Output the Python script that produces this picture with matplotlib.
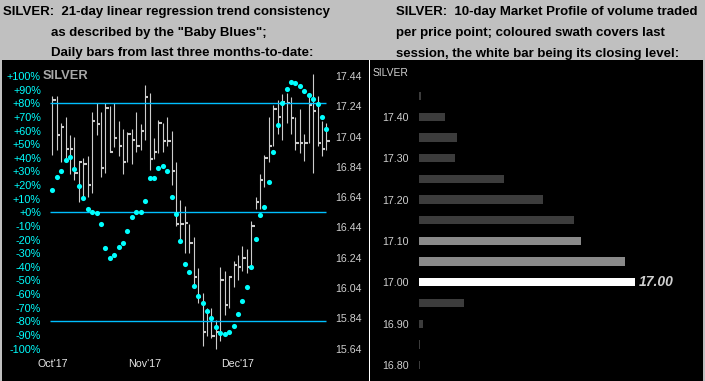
import matplotlib
matplotlib.use('Agg')
import matplotlib.pyplot as plt
from matplotlib.patches import Rectangle
import numpy as np

plt.rcParams['font.family'] = ['Liberation Sans', 'DejaVu Sans']

# ---------------- left chart data ----------------
highs = [17.31, 17.31, 17.13, 17.17, 17.05, 17.04, 16.87, 16.90, 16.91, 17.20,
         17.26, 17.20, 17.26, 17.24, 17.26, 17.14, 17.09, 17.07, 17.09, 17.20,
         17.12, 17.38, 17.33, 17.03, 17.15, 17.13, 17.17, 17.08, 16.87, 16.62,
         16.58, 16.46, 16.38, 16.17, 16.01, 15.91, 15.91, 15.83, 16.18, 16.15,
         16.12, 16.22, 16.26, 16.32, 16.30, 16.48, 16.64, 16.79, 16.92, 17.17,
         17.25, 17.28, 17.32, 17.33, 17.30, 17.17, 17.22, 17.06, 17.30, 17.45,
         17.31, 17.14, 17.13]
lows = [16.92, 16.95, 16.87, 16.89, 16.79, 16.75, 16.61, 16.64, 16.64, 16.67,
        17.05, 16.77, 16.80, 16.94, 16.97, 16.91, 16.79, 16.87, 16.86, 16.94,
        16.95, 17.02, 16.82, 16.89, 16.93, 16.94, 16.98, 16.72, 16.45, 16.36,
        16.27, 16.27, 16.05, 15.94, 15.66, 15.72, 15.71, 15.64, 15.69, 15.86,
        15.91, 16.05, 16.09, 16.15, 16.14, 16.18, 16.56, 16.56, 16.71, 16.87,
        16.98, 17.06, 17.02, 17.13, 17.06, 16.95, 16.93, 16.88, 17.00, 16.80,
        16.98, 16.91, 16.95]
closes = [17.28, 17.05, 17.10, 16.96, 16.96, 16.80, 16.87, 16.86, 16.72, 17.14,
          17.12, 16.83, 17.23, 16.94, 17.03, 16.98, 16.87, 17.06, 17.02, 16.98,
          17.08, 17.30, 16.89, 16.94, 17.13, 17.01, 17.01, 16.81, 16.46, 16.46,
          16.47, 16.34, 16.11, 15.98, 15.75, 15.88, 15.72, 15.75, 16.09, 15.93,
          16.11, 16.19, 16.18, 16.24, 16.18, 16.45, 16.61, 16.75, 16.90, 16.98,
          17.22, 17.17, 17.27, 17.26, 17.16, 17.00, 17.00, 17.00, 17.25, 17.21,
          17.00, 16.96, 17.01]
baby_blues = [16.4, 25.9, 30.3, 38.4, 40.8, 31.8, 19.5, 10.7, 2.4, 0.4,
              -0.5, -8.6, -26.0, -33.3, -31.1, -25.2, -22.3, -13.5, -3.4, 0.0,
              0.0, 8.5, 25.4, 25.4, 32.7, 34.2, 30.5, 11.4, -1.0, -21.0,
              -37.7, -43.6, -53.8, -61.2, -66.3, -72.2, -77.3, -83.9, -88.3, -89.3,
              -87.6, -83.2, -74.4, -64.8, -54.6, -39.9, -19.6, -1.8, 4.1, 22.5,
              44.5, 64.0, 80.0, 90.5, 95.8, 95.1, 92.7, 89.2, 86.3, 83.1,
              79.2, 70.1, 61.1]
month_labels = ["Oct'17", "Nov'17", "Dec'17"]
month_index = [0, 21, 42]
pct_ticks = list(range(100, -101, -10))
pct_labels = [('+' if v >= 0 else '-') + f'{abs(v)}%' for v in pct_ticks]
price_ticks = [17.44, 17.24, 17.04, 16.84, 16.64, 16.44, 16.24, 16.04, 15.84, 15.64]
ref_levels = [80, 0, -80]
price_mid, price_per_pct = 16.54, 0.009   # 0% <-> 16.54, +100% <-> 17.44

# ---------------- right chart data ----------------
profile_prices = [17.45, 17.40, 17.35, 17.30, 17.25, 17.20, 17.15,
                  17.10, 17.05, 17.00, 16.95, 16.90, 16.85, 16.80]
profile_volume = [2, 26, 38, 36, 85, 124, 155, 162, 206, 216, 45, 4, 1, 1]
profile_kind = ['prior'] * 7 + ['session', 'session', 'close'] + ['prior'] * 4
profile_ticks = [17.40, 17.30, 17.20, 17.10, 17.00, 16.90, 16.80]
last_close = 17.00

W, H = 705, 381
fig = plt.figure(figsize=(W / 100, H / 100), dpi=100)
fig.patch.set_facecolor('#c0c0c0')


def fx(px):
    return px / W


def fy(py):
    return 1 - py / H


def box(x0, y0, x1, y1):
    return [fx(x0), fy(y1), (x1 - x0) / W, (y1 - y0) / H]


# backgrounds
fig.add_artist(Rectangle((fx(2), 0), (369 - 2) / W, fy(60), transform=fig.transFigure,
                         facecolor='black', edgecolor='none', zorder=-2))
fig.add_artist(Rectangle((fx(370), 0), (703 - 370) / W, fy(60), transform=fig.transFigure,
                         facecolor='black', edgecolor='none', zorder=-2))
fig.add_artist(Rectangle((fx(369), 0), 1.2 / W, fy(60), transform=fig.transFigure,
                         facecolor='white', edgecolor='none', zorder=-1))

# headers
hdr = dict(fontsize=9.5, fontweight='bold', color='black', va='baseline', ha='left')
fig.text(fx(3), fy(15), 'SILVER:  21-day linear regression trend consistency', **hdr)
fig.text(fx(51.5), fy(36), 'as described by the "Baby Blues";', **hdr)
fig.text(fx(51.5), fy(56), 'Daily bars from last three months-to-date:', **hdr)
fig.text(fx(396), fy(15), 'SILVER:  10-day Market Profile of volume traded', **hdr)
fig.text(fx(396), fy(36), 'per price point; coloured swath covers last', **hdr)
fig.text(fx(396), fy(56.5), 'session, the white bar being its closing level:', **hdr)

# ---------------- left chart ----------------
top_px, bot_px = 62, 355
ax_p = fig.add_axes(box(44, top_px, 334, bot_px))
ax_p.set_facecolor('none')
x = np.arange(len(closes))
pct_top = (212.3 - top_px) / 1.363
pct_bot = (212.3 - bot_px) / 1.363
ax_p.set_ylim(price_mid + price_per_pct * pct_bot, price_mid + price_per_pct * pct_top)
ax_p.set_xlim((44 - 52.3) / 4.42, (334 - 52.3) / 4.42)

bar_col = '#cdcdcd'
ax_p.vlines(x, lows, highs, color=bar_col, lw=0.8)
ax_p.hlines(closes, x, x + 0.75, color=bar_col, lw=1.5)

ax_b = ax_p.twinx()
ax_b.set_ylim(pct_bot, pct_top)
ax_b.hlines(ref_levels, -0.5, 61.9, color='#00bfff', lw=1.0)
ax_b.plot(x, baby_blues, 'o', ms=3.7, color='#00ffff', mec='none')

ax_p.yaxis.tick_right()
ax_b.yaxis.tick_left()
ax_p.set_yticks(price_ticks, [f'{v:.2f}' for v in price_ticks])
ax_p.tick_params(axis='y', length=0, pad=1.2, labelsize=7.7, labelcolor='#cfcfcf')
ax_b.set_yticks(pct_ticks, pct_labels)
ax_b.tick_params(axis='y', length=0, pad=2.2, labelsize=7.8, labelcolor='#00ffff')
ax_p.set_xticks(month_index, month_labels)
ax_p.tick_params(axis='x', length=0, pad=3.2, labelsize=7.7, labelcolor='#e6e6e6')
for a in (ax_p, ax_b):
    for s in a.spines.values():
        s.set_visible(False)

fig.text(fx(42.7), fy(76), 'SILVER', fontsize=9.3, fontweight='bold', color='#a8a8a8',
         va='center', ha='left')

# ---------------- right chart ----------------
ax_r = fig.add_axes(box(419, 60, 703, 381))
ax_r.set_facecolor('none')
colors = {'prior': '#3c3c3c', 'session': '#8a8a8a', 'close': '#ffffff'}
ax_r.barh(profile_prices, profile_volume, height=0.02, left=0,
          color=[colors[k] for k in profile_kind])
ax_r.set_xlim(0, 284)
ax_r.set_ylim(17.00 - (381 - 282.3) / 414, 17.40 + (116.7 - 60) / 414)
ax_r.set_xticks([])
ax_r.set_yticks(profile_ticks, [f'{v:.2f}' for v in profile_ticks])
ax_r.tick_params(axis='y', length=0, pad=7.2, labelsize=7.7, labelcolor='#cfcfcf')
for s in ax_r.spines.values():
    s.set_visible(False)
close_vol = profile_volume[profile_kind.index('close')]
ax_r.annotate(f'{last_close:.2f}', xy=(close_vol, last_close), xytext=(3, 0),
              textcoords='offset points', va='center', ha='left', fontsize=10,
              fontweight='bold', fontstyle='italic', color='#cfcfcf')
fig.text(fx(372.3), fy(73), 'SILVER', fontsize=7.4, color='#cfcfcf', va='center', ha='left')

fig.savefig('out.png', dpi=100, facecolor=fig.get_facecolor())
